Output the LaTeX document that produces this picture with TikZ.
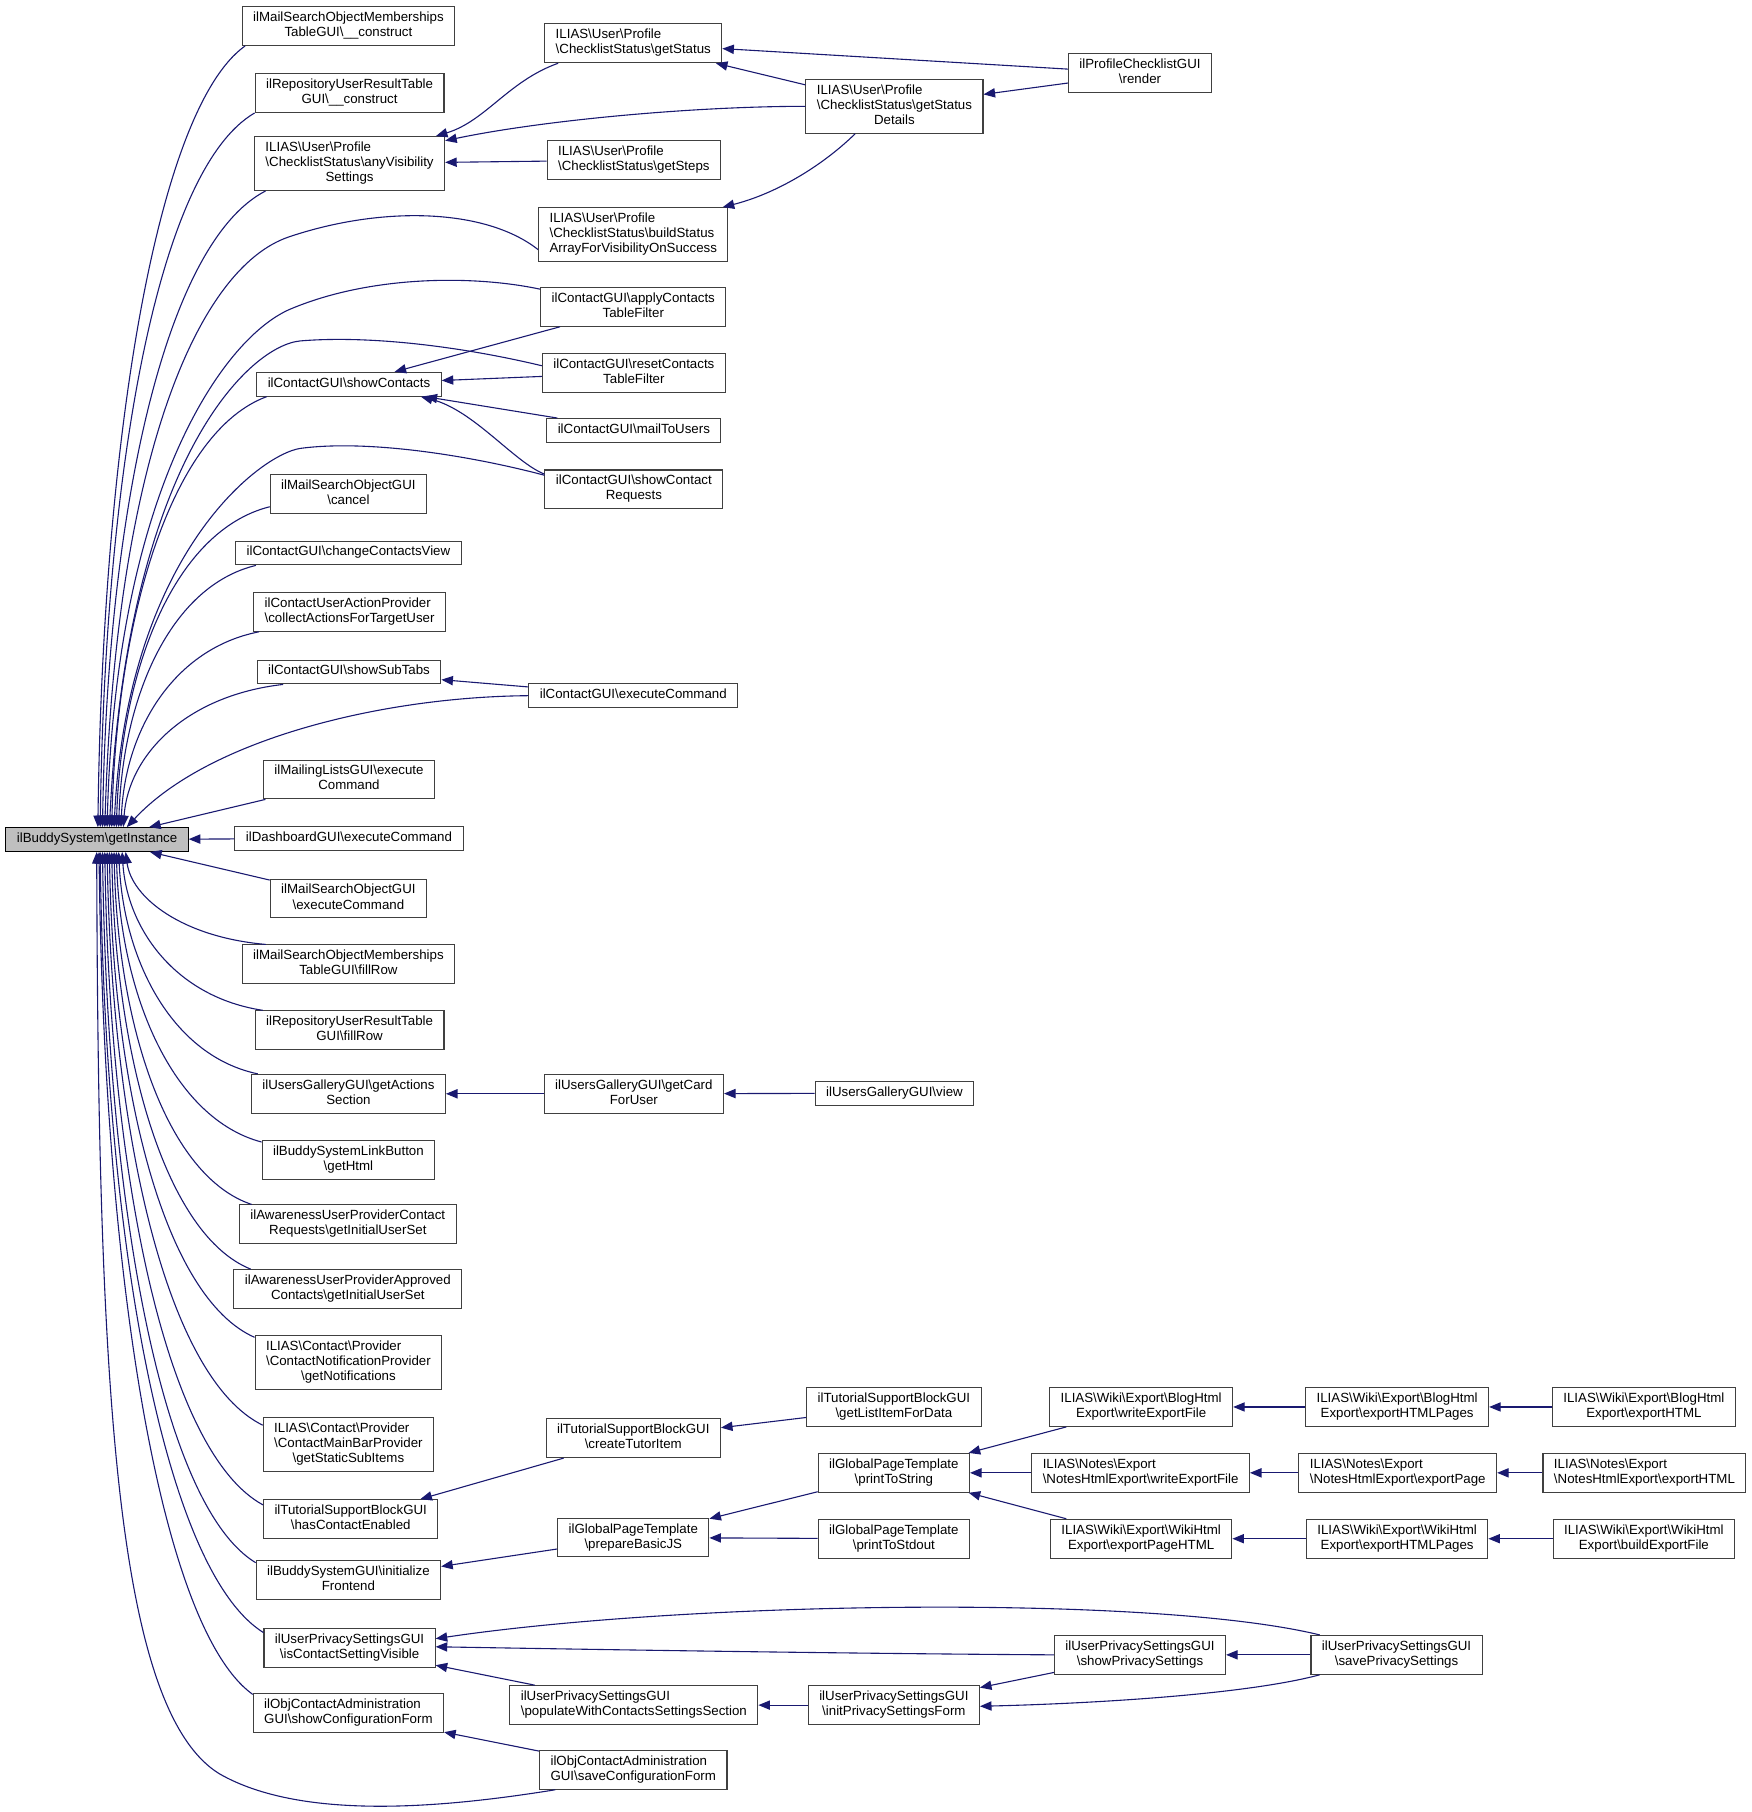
\documentclass[tikz,border=0pt]{standalone}
\usepackage{fontspec}
\setmainfont{Liberation Sans}
\usetikzlibrary{arrows.meta}
\definecolor{edgeblue}{HTML}{191970}
\definecolor{boxgray}{HTML}{404040}
\definecolor{rootfill}{HTML}{BFBFBF}
\newcommand\bs{\textbackslash}
\newcommand\Tc[1]{\begin{tabular}{@{}c@{}}#1\end{tabular}}
\newcommand\Tl[1]{\begin{tabular}{@{}l@{}}#1\end{tabular}}
\newcommand\Mc[1]{\multicolumn{1}{@{}c@{}}{#1}}
\begin{document}
\begin{tikzpicture}[x=1pt,y=-1pt,
  fn/.style={draw=boxgray, line width=0.9pt, fill=white, inner xsep=9.5pt, inner ysep=3.8pt, font={\fontsize{11.5}{13}\selectfont}, anchor=center},
  rootnode/.style={fn, draw=black, fill=rootfill},
  edge/.style={draw=edgeblue, line width=0.95pt, -{Triangle[length=10pt,width=8pt]}},
  redge/.style={draw=edgeblue, line width=0.95pt, {Triangle[length=10pt,width=8pt]}-}]
\useasboundingbox (0,0) rectangle (1516,1568);

% root
\node[rootnode] (root) at (84,726.5) {\Tc{ilBuddySystem\bs getInstance}};

% column 1
\node[fn] (n1) at (301.5,22.5) {\Tc{ilMailSearchObjectMemberships\\TableGUI\bs\_\_construct}};
\node[fn] (n2) at (302.5,80.5) {\Tc{ilRepositoryUserResultTable\\GUI\bs\_\_construct}};
\node[fn] (n3) at (302.5,141.5) {\Tl{ILIAS\bs User\bs Profile\\\bs ChecklistStatus\bs anyVisibility\\\Mc{Settings}}};
\node[fn] (n4) at (302,332.5) {\Tc{ilContactGUI\bs showContacts}};
\node[fn] (n5) at (301.5,427.5) {\Tc{ilMailSearchObjectGUI\\\bs cancel}};
\node[fn] (n6) at (301.5,478.5) {\Tc{ilContactGUI\bs changeContactsView}};
\node[fn] (n7) at (302.5,529.5) {\Tl{ilContactUserActionProvider\\\bs collectActionsForTargetUser}};
\node[fn] (n8) at (302,581.5) {\Tc{ilContactGUI\bs showSubTabs}};
\node[fn] (n9) at (302,674.5) {\Tc{ilMailingListsGUI\bs execute\\Command}};
\node[fn] (n10) at (302,725.5) {\Tc{ilDashboardGUI\bs executeCommand}};
\node[fn] (n11) at (301.5,777.5) {\Tc{ilMailSearchObjectGUI\\\bs executeCommand}};
\node[fn] (n12) at (301.5,834.5) {\Tc{ilMailSearchObjectMemberships\\TableGUI\bs fillRow}};
\node[fn] (n13) at (302.5,891.5) {\Tc{ilRepositoryUserResultTable\\GUI\bs fillRow}};
\node[fn] (n14) at (301.5,946.5) {\Tc{ilUsersGalleryGUI\bs getActions\\Section}};
\node[fn] (n15) at (301.5,1003.5) {\Tc{ilBuddySystemLinkButton\\\bs getHtml}};
\node[fn] (n16) at (301,1059.5) {\Tc{ilAwarenessUserProviderContact\\Requests\bs getInitialUserSet}};
\node[fn] (n17) at (301,1115.5) {\Tc{ilAwarenessUserProviderApproved\\Contacts\bs getInitialUserSet}};
\node[fn] (n18) at (301.5,1179) {\Tl{ILIAS\bs Contact\bs Provider\\\bs ContactNotificationProvider\\\Mc{\bs getNotifications}}};
\node[fn] (n19) at (301.5,1250) {\Tl{ILIAS\bs Contact\bs Provider\\\bs ContactMainBarProvider\\\Mc{\bs getStaticSubItems}}};
\node[fn] (n20) at (303.5,1314.5) {\Tc{ilTutorialSupportBlockGUI\\\bs hasContactEnabled}};
\node[fn] (n21) at (301.5,1367.5) {\Tc{ilBuddySystemGUI\bs initialize\\Frontend}};
\node[fn] (n22) at (302.5,1426) {\Tc{ilUserPrivacySettingsGUI\\\bs isContactSettingVisible}};
\node[fn] (n23) at (301.5,1482.5) {\Tl{ilObjContactAdministration\\GUI\bs showConfigurationForm}};

% column 2
\node[fn] (g1) at (548,37.5) {\Tl{ILIAS\bs User\bs Profile\\\bs ChecklistStatus\bs getStatus}};
\node[fn] (g2) at (548.5,138.5) {\Tl{ILIAS\bs User\bs Profile\\\bs ChecklistStatus\bs getSteps}};
\node[fn] (g3) at (548,203) {\Tl{ILIAS\bs User\bs Profile\\\bs ChecklistStatus\bs buildStatus\\ArrayForVisibilityOnSuccess}};
\node[fn] (g4) at (548,265.5) {\Tc{ilContactGUI\bs applyContacts\\TableFilter}};
\node[fn] (g5) at (548.5,322.5) {\Tc{ilContactGUI\bs resetContacts\\TableFilter}};
\node[fn] (g6) at (548.5,372.5) {\Tc{ilContactGUI\bs mailToUsers}};
\node[fn] (g7) at (548.5,423.5) {\Tc{ilContactGUI\bs showContact\\Requests}};
\node[fn] (g8) at (548,602) {\Tc{ilContactGUI\bs executeCommand}};
\node[fn] (g9) at (548.5,946.5) {\Tc{ilUsersGalleryGUI\bs getCard\\ForUser}};
\node[fn] (g10) at (548,1244.5) {\Tc{ilTutorialSupportBlockGUI\\\bs createTutorItem}};
\node[fn] (g11) at (548,1330.5) {\Tc{ilGlobalPageTemplate\\\bs prepareBasicJS}};
\node[fn] (g12) at (548.5,1475.5) {\Tl{ilUserPrivacySettingsGUI\\\bs populateWithContactsSettingsSection}};
\node[fn] (g13) at (548,1531.5) {\Tl{ilObjContactAdministration\\GUI\bs saveConfigurationForm}};

% column 3
\node[fn] (h1) at (774,92) {\Tl{ILIAS\bs User\bs Profile\\\bs ChecklistStatus\bs getStatus\\\Mc{Details}}};
\node[fn] (h2) at (774,946) {\Tc{ilUsersGalleryGUI\bs view}};
\node[fn] (h3) at (773.5,1217.5) {\Tc{ilTutorialSupportBlockGUI\\\bs getListItemForData}};
\node[fn] (h4) at (773.5,1274.5) {\Tc{ilGlobalPageTemplate\\\bs printToString}};
\node[fn] (h5) at (773.5,1331.5) {\Tc{ilGlobalPageTemplate\\\bs printToStdout}};
\node[fn] (h6) at (773.5,1475.5) {\Tc{ilUserPrivacySettingsGUI\\\bs initPrivacySettingsForm}};

% column 4
\node[fn] (i1) at (986.5,63.5) {\Tc{ilProfileChecklistGUI\\\bs render}};
\node[fn] (i2) at (987.5,1217.5) {\Tc{ILIAS\bs Wiki\bs Export\bs BlogHtml\\Export\bs writeExportFile}};
\node[fn] (i3) at (987,1274.5) {\Tl{ILIAS\bs Notes\bs Export\\\bs NotesHtmlExport\bs writeExportFile}};
\node[fn] (i4) at (987.5,1331.5) {\Tc{ILIAS\bs Wiki\bs Export\bs WikiHtml\\Export\bs exportPageHTML}};
\node[fn] (i5) at (986.5,1432) {\Tc{ilUserPrivacySettingsGUI\\\bs showPrivacySettings}};

% column 5
\node[fn] (j1) at (1209,1217.5) {\Tc{ILIAS\bs Wiki\bs Export\bs BlogHtml\\Export\bs exportHTMLPages}};
\node[fn] (j2) at (1209.5,1274.5) {\Tl{ILIAS\bs Notes\bs Export\\\bs NotesHtmlExport\bs exportPage}};
\node[fn] (j3) at (1209,1331.5) {\Tc{ILIAS\bs Wiki\bs Export\bs WikiHtml\\Export\bs exportHTMLPages}};
\node[fn] (j4) at (1208.5,1432) {\Tc{ilUserPrivacySettingsGUI\\\bs savePrivacySettings}};

% column 6
\node[fn] (k1) at (1422.5,1217.5) {\Tc{ILIAS\bs Wiki\bs Export\bs BlogHtml\\Export\bs exportHTML}};
\node[fn] (k2) at (1423,1274.5) {\Tl{ILIAS\bs Notes\bs Export\\\bs NotesHtmlExport\bs exportHTML}};
\node[fn] (k3) at (1422.5,1331.5) {\Tc{ILIAS\bs Wiki\bs Export\bs WikiHtml\\Export\bs buildExportFile}};

% ---- edges into root from above
\draw[edge] ([xshift=3pt]n1.south west) .. controls (136,94) and (89,378) .. ([xshift=80pt]root.north west);
\draw[edge] (n2.south west) .. controls (136,147) and (91,407) .. ([xshift=82pt]root.north west);
\draw[edge] ([xshift=10pt]n3.south west) .. controls (143,210) and (93,441) .. ([xshift=84pt]root.north west);
\draw[edge] ([yshift=-13pt]g3.west) .. controls (420,180) and (330,178) .. (250,205) .. controls (170,232) and (100,400) .. ([xshift=86pt]root.north west);
\draw[edge] ([yshift=-2pt]g4.north west) .. controls (410,238) and (320,238) .. (250,268) .. controls (190,295) and (100,430) .. ([xshift=88pt]root.north west);
\draw[edge] ([yshift=6pt]g5.west) .. controls (400,300) and (320,290) .. (260,295) .. controls (215,299) and (110,400) .. ([xshift=90pt]root.north west);
\draw[edge] ([xshift=9pt]n4.south west) .. controls (150,373) and (101,530) .. ([xshift=92pt]root.north west);
\draw[edge] ([yshift=-5pt]g7.north west) .. controls (410,395) and (320,380) .. (260,388) .. controls (225,393) and (110,480) .. ([xshift=94pt]root.north west);
\draw[edge] ([yshift=-11pt]n5.west) .. controls (152,459) and (105,576) .. ([xshift=96pt]root.north west);
\draw[edge] ([xshift=18pt]n6.south west) .. controls (148,507) and (106,602) .. ([xshift=98pt]root.north west);
\draw[edge] ([xshift=5pt]n7.south west) .. controls (151,561) and (108,631) .. ([xshift=100pt]root.north west);
\draw[edge] ([xshift=23pt]n8.south west) .. controls (160,602) and (111,654) .. ([xshift=102pt]root.north west);
\draw[edge] (g8.west) .. controls (330,603) and (180,640) .. ([xshift=105pt]root.north west);
\draw[edge] (n9) -- (root);
\draw[edge] (n10) -- (root);
\draw[edge] (n11) -- (root);

% ---- edges into root from below
\draw[redge] ([xshift=104pt]root.south west) .. controls (114,777) and (158,811) .. ([xshift=21pt]n12.north west);
\draw[redge] ([xshift=101pt]root.south west) .. controls (110,805) and (153,863) .. ([xshift=7pt]n13.north west);
\draw[redge] ([xshift=98pt]root.south west) .. controls (107,833) and (150,914) .. ([xshift=6pt]n14.north west);
\draw[redge] ([xshift=96pt]root.south west) .. controls (104,862) and (150,968) .. ([yshift=-2pt]n15.north west);
\draw[redge] ([xshift=94pt]root.south west) .. controls (102,890) and (145,1018) .. ([xshift=11pt]n16.north west);
\draw[redge] ([xshift=92pt]root.south west) .. controls (100,918) and (144,1069) .. ([xshift=15pt]n17.north west);
\draw[redge] ([xshift=90pt]root.south west) .. controls (98,947) and (143,1123) .. ([yshift=-2pt]n18.north west);
\draw[redge] ([xshift=88pt]root.south west) .. controls (97,985) and (145,1193) .. ([yshift=-7pt]n19.north west);
\draw[redge] ([xshift=86pt]root.south west) .. controls (95,1020) and (144,1257) .. ([yshift=-5pt]n20.north west);
\draw[redge] ([xshift=84pt]root.south west) .. controls (93,1045) and (140,1303) .. ([yshift=-2pt]n21.north west);
\draw[redge] ([xshift=82pt]root.south west) .. controls (91,1075) and (142,1359) .. ([yshift=-4pt]n22.north west);
\draw[redge] ([xshift=81pt]root.south west) .. controls (90,1102) and (138,1408) .. ([yshift=-1pt]n23.north west);
\draw[redge] ([xshift=79pt]root.south west) .. controls (85,1200) and (100,1480) .. (190,1535) .. controls (260,1575) and (380,1565) .. ([xshift=14pt]g13.south west);

% ---- checklist status group
\draw[edge] ([xshift=12pt]g1.south west) .. controls (440,70) and (420,105) .. ([xshift=-8pt]n3.north east);
\draw[edge] (h1.west) .. controls (600,92) and (470,104) .. ([yshift=-4pt]n3.north east);
\draw[edge] (g2) -- (n3);
\draw[edge] (i1) -- (g1);
\draw[edge] (h1) -- (g1);
\draw[edge] (i1) -- (h1);
\draw[edge] ([xshift=-34pt]h1.south) .. controls (710,145) and (670,168) .. ([xshift=-5pt]g3.north east);

% ---- contacts group
\draw[edge] (g4) -- (n4);
\draw[edge] (g5) -- (n4);
\draw[edge] (g6) -- (n4);
\draw[edge] ([yshift=-4pt]g7.north west) .. controls (445,400) and (410,355) .. ([xshift=-18pt]n4.south east);
\draw[edge] (g8) -- (n8);

% ---- gallery
\draw[edge] (g9) -- (n14);
\draw[edge] (h2) -- (g9);

% ---- tutorial / page template
\draw[edge] (g10) -- (n20);
\draw[edge] (h3) -- (g10);
\draw[edge] (g11) -- (n21);
\draw[edge] (h4) -- (g11);
\draw[edge] (h5) -- (g11);
\draw[edge] (i2) -- (h4);
\draw[edge] (i3) -- (h4);
\draw[edge] (i4) -- (h4);
\draw[edge] (j1) -- (i2);
\draw[edge] (k1) -- (j1);
\draw[edge] (j2) -- (i3);
\draw[edge] (k2) -- (j2);
\draw[edge] (j3) -- (i4);
\draw[edge] (k3) -- (j3);

% ---- privacy settings
\draw[edge] ([xshift=8pt]j4.north west) .. controls (1000,1380) and (600,1385) .. ([yshift=8pt]n22.east);
\draw[edge] (i5.west) .. controls (750,1431) and (550,1428) .. ([yshift=1pt]n22.east);
\draw[edge] (g12) -- (n22);
\draw[edge] (h6) -- (g12);
\draw[edge] (i5) -- (h6);
\draw[edge] ([xshift=8pt]j4.south west) .. controls (1080,1466) and (950,1474) .. ([yshift=-1pt]h6.east);
\draw[edge] (j4) -- (i5);

% ---- contact administration
\draw[edge] (g13) -- (n23);
\end{tikzpicture}
\end{document}
